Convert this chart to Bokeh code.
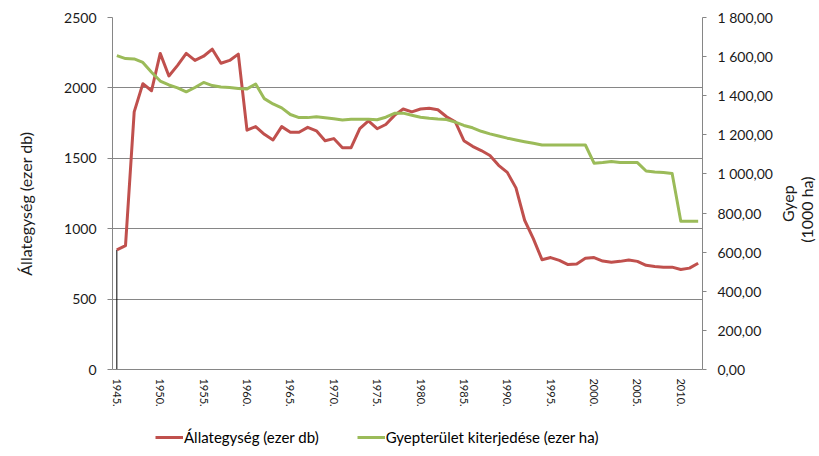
from bokeh.plotting import figure
from bokeh.models import (Range1d, LinearAxis, FixedTicker, Legend, LegendItem)
from bokeh.layouts import row, column
from bokeh.core.properties import value
from bokeh.embed import file_html
from bokeh.resources import INLINE
import math

years = list(range(1945, 2013))
allategyseg = [850, 880, 1830, 2030, 1980, 2245, 2085, 2160, 2245, 2195,
               2225, 2275, 2175, 2195, 2240, 1700, 1725, 1670, 1630, 1725,
               1685, 1685, 1720, 1695, 1625, 1640, 1575, 1575, 1710, 1765,
               1710, 1740, 1805, 1850, 1830, 1850, 1855, 1845, 1795, 1760,
               1625, 1585, 1555, 1520, 1450, 1400, 1290, 1060, 930, 780,
               795, 775, 745, 750, 790, 795, 770, 762, 768, 778,
               768, 740, 732, 727, 727, 710, 720, 755]
gyepterulet = [1605, 1590, 1588, 1570, 1520, 1475, 1455, 1440, 1420, 1442,
               1468, 1452, 1445, 1442, 1437, 1435, 1460, 1385, 1358, 1338,
               1304, 1288, 1288, 1292, 1287, 1282, 1276, 1280, 1280, 1280,
               1277, 1290, 1310, 1311, 1300, 1290, 1285, 1281, 1278, 1265,
               1248, 1236, 1218, 1205, 1194, 1183, 1174, 1165, 1157, 1148,
               1148, 1148, 1148, 1148, 1148, 1055, 1058, 1064, 1058, 1058,
               1058, 1015, 1010, 1007, 1002, 758, 758, 758]

left_ticks = [0, 500, 1000, 1500, 2000, 2500]
right_ticks = [0, 200, 400, 600, 800, 1000, 1200, 1400, 1600, 1800]
right_labels = ["0,00", "200,00", "400,00", "600,00", "800,00", "1 000,00",
                "1 200,00", "1 400,00", "1 600,00", "1 800,00"]
x_ticks = [1945, 1950, 1955, 1960, 1965, 1970, 1975, 1980, 1985, 1990,
           1995, 2000, 2005, 2010]
x_labels = [f"{y}." for y in x_ticks]

name_a = "Állategység (ezer db)"
name_g = "Gyepterület kiterjedése (ezer ha)"
left_title = "Állategység (ezer db)"
right_title_lines = ["Gyep", "(1000 ha)"]

FONT = "Lato"
AX = "#868686"
TXT = "#1a1a1a"
RED = "#c0504d"
GREEN = "#9bbb59"

H_MAIN = 414


def blank(w, h):
    f = figure(width=w, height=h, output_backend="svg", toolbar_location=None,
               x_range=Range1d(0, w), y_range=Range1d(0, h), min_border=0,
               x_axis_location=None, y_axis_location=None)
    f.outline_line_color = None
    f.grid.visible = False
    return f


# ---- main chart ----
p = figure(width=735, height=H_MAIN, output_backend="svg",
           toolbar_location=None,
           x_range=Range1d(years[0] - 0.5, years[-1] + 0.5),
           y_range=Range1d(0, 2500),
           min_border_left=72, min_border_right=73, min_border_top=17,
           min_border_bottom=45)
p.outline_line_color = None
p.extra_y_ranges = {"g": Range1d(0, 1800)}

p.xgrid.visible = False
p.ygrid.ticker = FixedTicker(ticks=left_ticks)
p.ygrid.grid_line_color = AX
p.ygrid.grid_line_width = 1

ya = p.yaxis[0]
ya.ticker = FixedTicker(ticks=left_ticks)
ya.axis_line_color = AX
ya.major_tick_line_color = AX
ya.major_tick_out = 5
ya.major_tick_in = 0
ya.minor_tick_out = 0
ya.minor_tick_in = 0
ya.major_label_text_font = FONT
ya.major_label_text_font_size = "14px"
ya.major_label_text_color = TXT
ya.major_label_standoff = 11

ra = LinearAxis(y_range_name="g", ticker=FixedTicker(ticks=right_ticks))
ra.major_label_overrides = {t: l for t, l in zip(right_ticks, right_labels)}
ra.axis_line_color = AX
ra.major_tick_line_color = AX
ra.major_tick_out = 4
ra.major_tick_in = 0
ra.minor_tick_out = 0
ra.minor_tick_in = 0
ra.major_label_text_font = FONT
ra.major_label_text_font_size = "14px"
ra.major_label_text_color = TXT
ra.major_label_standoff = 11
p.add_layout(ra, "right")

xa = p.xaxis[0]
xa.ticker = FixedTicker(ticks=x_ticks)
xa.major_label_overrides = {t: l for t, l in zip(x_ticks, x_labels)}
xa.major_label_orientation = -math.pi / 2
xa.axis_line_color = AX
xa.major_tick_out = 0
xa.major_tick_in = 0
xa.minor_tick_out = 0
xa.minor_tick_in = 0
xa.major_label_text_font = FONT
xa.major_label_text_font_size = "11px"
xa.major_label_text_color = TXT
xa.major_label_standoff = 9

# black drop line at first category
p.segment(x0=[years[0]], y0=[0], x1=[years[0]], y1=[allategyseg[0]],
          line_color="black", line_width=1)

p.line(years, allategyseg, line_color=RED, line_width=3, line_join="round")
p.line(years, gyepterulet, line_color=GREEN, line_width=3,
       line_join="round", y_range_name="g")

# ---- left axis title ----
lt = blank(40, H_MAIN)
lt.text(x=[25], y=[H_MAIN - 219], text=[left_title], angle=math.pi / 2,
        text_align="center", text_baseline="middle",
        text_font=value(FONT), text_font_size="16px", text_color=TXT)

# ---- right axis title ----
rt = blank(42, H_MAIN)
rt.text(x=[12, 31], y=[H_MAIN - 219, H_MAIN - 226], text=right_title_lines,
        angle=math.pi / 2, text_align="center", text_baseline="middle",
        text_font=value(FONT), text_font_size="16px", text_color=TXT)

# ---- legend strip ----
lg = blank(817, 46)
lg.x_range = Range1d(0, 1)
lg.y_range = Range1d(0, 1)
la = lg.line(years, allategyseg, line_color=RED, line_width=3)
lgg = lg.line(years, gyepterulet, line_color=GREEN, line_width=3)
legend = Legend(items=[LegendItem(label=name_a, renderers=[la]),
                       LegendItem(label=name_g, renderers=[lgg])],
                orientation="horizontal", location=(155, 13))
legend.label_text_font = FONT
legend.label_text_font_size = "15px"
legend.label_text_color = "black"
legend.glyph_width = 28
legend.glyph_height = 20
legend.label_height = 20
legend.label_standoff = 1
legend.spacing = 38
legend.padding = 0
legend.margin = 0
legend.border_line_color = None
legend.background_fill_alpha = 0
lg.add_layout(legend, "center")

layout = column(row(lt, p, rt), lg)
open("out.html", "w").write(file_html(layout, INLINE))
